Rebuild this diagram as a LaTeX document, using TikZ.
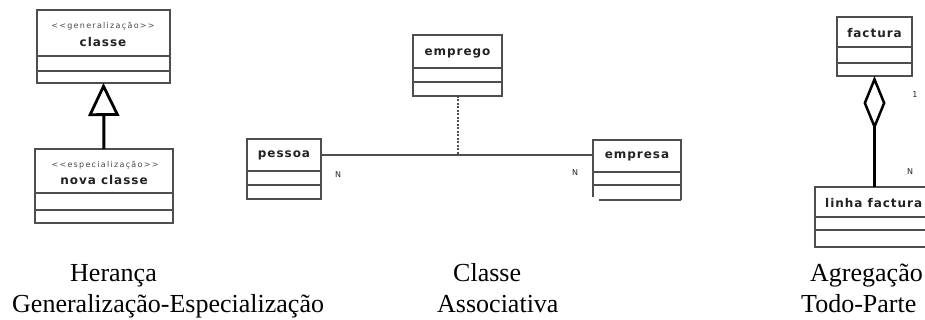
\documentclass[tikz,border=0pt]{standalone}
\usepackage{fontspec}
\setmainfont{Liberation Serif}
\newfontfamily\classfont[LetterSpace=8]{DejaVu Sans}
\newfontfamily\stereofont[LetterSpace=16]{DejaVu Sans}
\newfontfamily\multfont{DejaVu Sans}
\usetikzlibrary{arrows.meta}

\definecolor{boxline}{HTML}{4E4E4E}
\definecolor{classtext}{HTML}{222222}
\definecolor{stereotext}{HTML}{484848}

\tikzset{
  classbox/.style={draw=boxline, line width=1.7pt, inner sep=0pt, outer sep=0pt, rectangle},
  divider/.style={draw=boxline, line width=1.7pt},
  classname/.style={inner sep=0pt, text=classtext, font=\classfont\bfseries\fontsize{12}{14}\selectfont},
  stereo/.style={inner sep=0pt, text=stereotext, font=\stereofont\fontsize{8}{9}\selectfont},
  mult/.style={inner sep=0pt, text=classtext, font=\multfont\fontsize{8}{9}\selectfont},
  caption/.style={inner sep=0pt, anchor=base west, font=\fontsize{26}{31}\selectfont},
  inherit/.style={line width=3pt, -{Triangle[open, length=33pt, width=31pt, line width=2.8pt]}},
  aggregate/.style={line width=3pt, -{Diamond[open, length=54pt, width=22pt, line width=2.5pt]}},
  assoc/.style={draw=boxline, line width=1.9pt},
  assocdots/.style={draw=boxline, line width=2pt, dash pattern=on 2pt off 1.5pt},
}

% class box: name, x1, y1, width, height, first divider y, second divider y
\newcommand\umlclass[7]{%
  \node[classbox, anchor=north west, minimum width=#4pt, minimum height=#5pt] (#1) at (#2,#3) {};
  \draw[divider] (#1.west |- 0,#6) -- (#1.east |- 0,#6);
  \draw[divider] (#1.west |- 0,#7) -- (#1.east |- 0,#7);
}

\begin{document}
\begin{tikzpicture}[x=1pt, y=-1pt]
  \useasboundingbox (0,0) rectangle (925,320);
  \fill[white] (0,0) rectangle (925,320);

  % ---------- inheritance ----------
  \umlclass{generalclass}{37}{10}{133}{73}{56}{71}
  \node[stereo] (stgen) at (103,26) {<<generalização>>};
  \node[classname] (nmgen) at (103,42) {classe};

  \umlclass{novaclasse}{35}{149}{138}{74}{193}{210}
  \node[stereo] (stesp) at (105,165) {<<especialização>>};
  \node[classname] (nmnova) at (104,180) {nova classe};

  \draw[inherit] (novaclasse.north) -- (generalclass.south);

  % ---------- association class ----------
  \umlclass{emprego}{413}{35}{89}{61}{68}{82}
  \node[classname] (nmemprego) at (457.5,53) {emprego};

  \umlclass{pessoa}{247}{139}{74}{60}{171}{185}
  \node[classname] (nmpessoa) at (284,155) {pessoa};

  % empresa: left side stops short, bottom edge drawn slightly lower and inset
  \node[inner sep=0pt, outer sep=0pt, anchor=north west, minimum width=88pt, minimum height=57pt] (empresa) at (593,140) {};
  \draw[divider] (empresa.south west) -- (empresa.north west) -- (empresa.north east) -- ([yshift=-3pt]empresa.south east);
  \draw[divider] (empresa.west |- 0,172) -- (empresa.east |- 0,172);
  \draw[divider] (empresa.west |- 0,185) -- (empresa.east |- 0,185);
  \draw[divider] ([xshift=6pt, yshift=-3pt]empresa.south west) -- ([yshift=-3pt]empresa.south east);
  \node[classname] (nmempresa) at (637,156) {empresa};

  \coordinate (assocjoin) at (457.5,155);
  \draw[assoc] (pessoa.east |- assocjoin) -- (empresa.west |- assocjoin);
  \draw[assocdots] (emprego.south) -- (assocjoin);

  \node[mult] (npessoa) at (338,175) {N};
  \node[mult] (nempresa) at (575,173) {N};

  % ---------- aggregation ----------
  \umlclass{factura}{837}{17}{75}{59}{47}{63}
  \node[classname] (nmfactura) at (874.5,33) {factura};

  \umlclass{linhafactura}{815}{187}{125}{60}{217}{230}
  \node[classname, anchor=west] (nmlinha) at (825,203) {linha factura};

  \draw[aggregate] (factura.south |- linhafactura.north) -- (factura.south);

  \node[mult] (mone) at (915,95) {1};
  \node[mult] (mmany) at (910,172) {N};

  % ---------- captions ----------
  \node[caption] (capheranca) at (70,281) {Herança};
  \node[caption] (capgen) at (12,312) {Generalização-Especialização};
  \node[caption] (capclasse) at (453,281) {Classe};
  \node[caption] (capassoc) at (437,312) {Associativa};
  \node[caption] (capagreg) at (810,281) {Agregação};
  \node[caption] (captodo) at (801,312) {Todo-Parte};
\end{tikzpicture}
\end{document}
